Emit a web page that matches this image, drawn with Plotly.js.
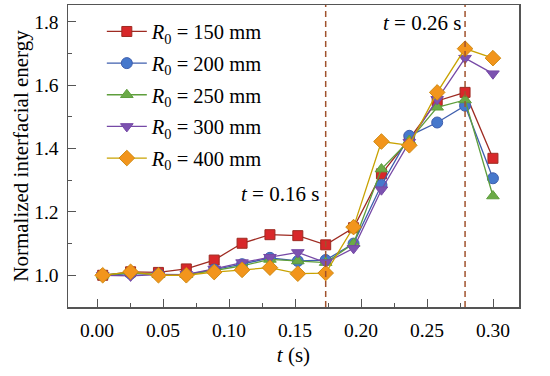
<!DOCTYPE html>
<html>
<head>
<meta charset="utf-8">
<script src="https://cdn.plot.ly/plotly-3.0.1.min.js"></script>
<style>html,body{margin:0;padding:0;background:#fff;}#chart{width:550px;height:376px;}</style>
</head>
<body>
<div id="chart"></div>
<script>
// time values (s)
var t = [0, 0.02, 0.04, 0.06, 0.08, 0.10, 0.12, 0.14, 0.16, 0.18, 0.20, 0.22, 0.24, 0.26, 0.28];
// normalized interfacial energy per initial radius
var r150 = [1.00, 1.011, 1.009, 1.020, 1.048, 1.101, 1.128, 1.125, 1.096, 1.150, 1.320, 1.430, 1.550, 1.577, 1.369];
var r200 = [1.00, 1.005, 1.003, 1.002, 1.018, 1.035, 1.055, 1.045, 1.048, 1.100, 1.285, 1.440, 1.482, 1.535, 1.306];
var r250 = [1.00, 1.008, 1.002, 1.002, 1.015, 1.030, 1.050, 1.045, 1.040, 1.100, 1.335, 1.425, 1.530, 1.553, 1.250];
var r300 = [1.00, 0.998, 1.002, 1.003, 1.020, 1.040, 1.057, 1.072, 1.040, 1.085, 1.270, 1.420, 1.555, 1.685, 1.636];
var r400 = [1.00, 1.011, 1.000, 1.000, 1.010, 1.017, 1.024, 1.005, 1.007, 1.152, 1.422, 1.410, 1.577, 1.715, 1.685];
var seriesNames = ['<i>R</i><sub>0</sub> = 150 mm', '<i>R</i><sub>0</sub> = 200 mm', '<i>R</i><sub>0</sub> = 250 mm', '<i>R</i><sub>0</sub> = 300 mm', '<i>R</i><sub>0</sub> = 400 mm'];
var markerTimes = [0.16, 0.26];
var markerLabels = ['<i>t</i> = 0.16 s', '<i>t</i> = 0.26 s'];
var xTicks = [0.00, 0.05, 0.10, 0.15, 0.20, 0.25, 0.30];
var yTicks = [1.0, 1.2, 1.4, 1.6, 1.8];

var FONT = 'Liberation Serif';
var styles = [
  {line: '#9E2B22', fill: '#D8282A', edge: '#9E2B22', symbol: 'square', size: 10},
  {line: '#3F5FAE', fill: '#4678CC', edge: '#3F5FAE', symbol: 'circle', size: 11},
  {line: '#5E9E3C', fill: '#6BAA47', edge: '#5E9E3C', symbol: 'triangle-up', size: 11},
  {line: '#7649A6', fill: '#7C52B0', edge: '#7649A6', symbol: 'triangle-down', size: 11},
  {line: '#C8A200', fill: '#F2951C', edge: '#D08A10', symbol: 'diamond', size: 12}
];
var ys = [r150, r200, r250, r300, r400];
var traces = ys.map(function (y, i) {
  var s = styles[i];
  return {
    x: t, y: y, xaxis: 'x2', yaxis: 'y', type: 'scatter', mode: 'lines+markers',
    name: seriesNames[i], legendgroup: 'g' + i,
    line: {color: s.line, width: 1.3},
    marker: {symbol: s.symbol, size: s.size, color: s.fill, line: {color: s.edge, width: 1}}
  };
});
// invisible trace to keep the tick axis active
traces.push({x: [0], y: [1], xaxis: 'x', yaxis: 'y', mode: 'markers', marker: {opacity: 0}, showlegend: false, hoverinfo: 'skip'});

var shapes = markerTimes.map(function (v) {
  return {type: 'line', xref: 'x2', yref: 'paper', x0: v, x1: v, y0: 0, y1: 1,
          line: {color: '#A0522D', width: 1.5, dash: '6px,4px'}};
});
var annotations = [
  {xref: 'x2', yref: 'y', x: markerTimes[0], y: 1.255, text: markerLabels[0], showarrow: false,
   xanchor: 'right', xshift: -5, font: {family: FONT, size: 21, color: '#000'}},
  {xref: 'x2', yref: 'y', x: markerTimes[1], y: 1.795, text: markerLabels[1], showarrow: false,
   xanchor: 'right', xshift: -2, font: {family: FONT, size: 21, color: '#000'}}
];

var layout = {
  width: 550, height: 376,
  margin: {l: 68, r: 31, t: 5, b: 69},
  paper_bgcolor: '#fff', plot_bgcolor: '#fff',
  font: {family: FONT, size: 18, color: '#000'},
  showlegend: true,
  legend: {x: 0.075, y: 0.978, xanchor: 'left', yanchor: 'top', bgcolor: 'rgba(0,0,0,0)',
           font: {family: FONT, size: 20.5, color: '#000'}, tracegroupgap: 2, itemwidth: 40},
  xaxis: {range: [-0.02197, 0.3197], tickvals: xTicks, tickformat: '.2f', ticks: 'inside', ticklen: 8,
          tickcolor: '#555', showline: true, linecolor: '#555', linewidth: 1.5, mirror: true,
          showgrid: false, zeroline: false,
          minor: {dtick: 0.025, tick0: 0, ticks: 'inside', ticklen: 4, tickcolor: '#555', showgrid: false},
          tickfont: {family: FONT, size: 19.5}, ticklabelstandoff: 5,
          title: {text: '<i>t</i> (s)', font: {family: FONT, size: 21}, standoff: 7}},
  xaxis2: {range: [-0.0249, 0.2987], overlaying: 'x', visible: false, showgrid: false, zeroline: false},
  yaxis: {range: [0.8999, 1.8527], tickvals: yTicks, tickformat: '.1f', ticks: 'inside', ticklen: 8,
          tickcolor: '#555', showline: true, linecolor: '#555', linewidth: 1.5, mirror: true,
          showgrid: false, zeroline: false,
          minor: {dtick: 0.1, tick0: 0, ticks: 'inside', ticklen: 4, tickcolor: '#555', showgrid: false},
          tickfont: {family: FONT, size: 19.5}, ticklabelstandoff: 4,
          title: {text: 'Normalized interfacial energy', font: {family: FONT, size: 21}, standoff: 0}},
  shapes: shapes,
  annotations: annotations
};

Plotly.newPlot('chart', traces, layout, {displayModeBar: false, staticPlot: true});
</script>
</body>
</html>
